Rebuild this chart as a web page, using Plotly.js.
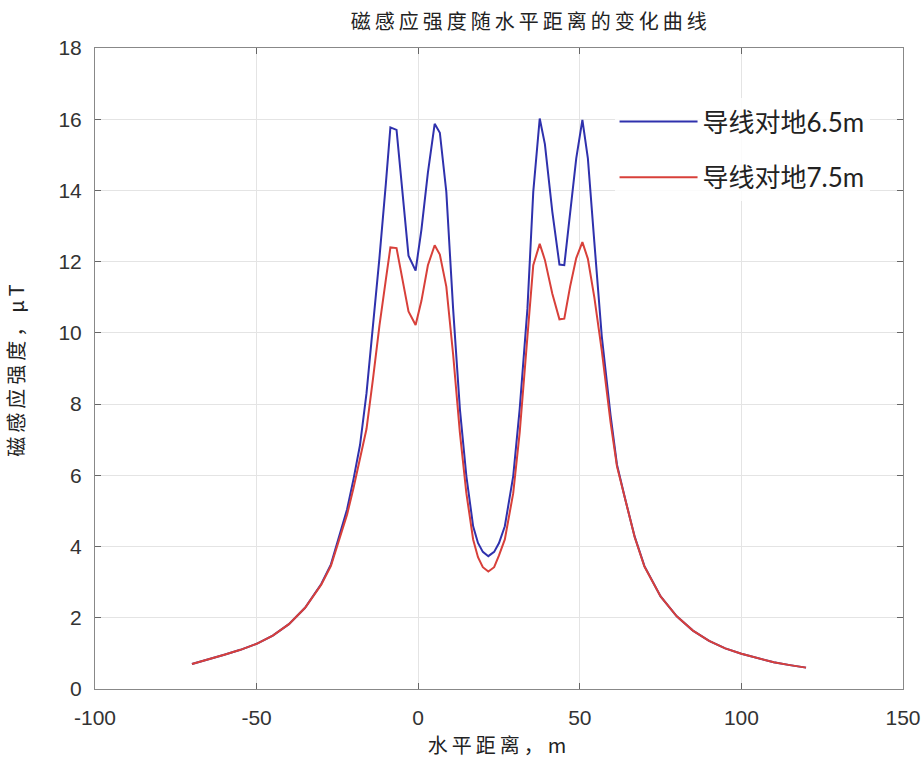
<!DOCTYPE html>
<html>
<head>
<meta charset="utf-8">
<script src="https://cdn.plot.ly/plotly-3.0.1.min.js"></script>
<style>
  html, body { margin: 0; padding: 0; background: #fff; }
  #chart { width: 923px; height: 760px; }
  .gtitle, .xtitle, .ytitle { letter-spacing: 4px; }
</style>
</head>
<body>
<div id="chart"></div>
<script>
// Horizontal distance (m)
const distance = [-70, -65, -60, -55, -50, -45, -40, -35, -30, -27, -24, -22, -20, -18, -16, -14, -12, -10,
  -8.6, -6.7, -5, -3, -0.8, 1, 3, 5.1, 6.7, 8.7, 10.8, 12.9, 14.9, 17, 18.5, 20, 21.7, 23.5, 25, 26.8, 29.4, 31.4,
  33.8, 35.6, 37.6, 39.2, 41.5, 43.7, 45.2, 47, 48.9, 50.8, 52.5, 54.5, 56.8, 59.5, 61.5, 64, 67, 70,
  75, 80, 85, 90, 95, 100, 105, 110, 115, 120];

// Conductor height 6.5 m (μT)
const field65 = [0.70, 0.82, 0.96, 1.10, 1.27, 1.50, 1.82, 2.28, 2.95, 3.50, 4.40, 5.05, 5.90, 6.85, 8.30, 10.1, 12.1, 14.2,
  15.77, 15.70, 14.1, 12.17, 11.75, 12.9, 14.5, 15.87, 15.62, 13.96, 10.68, 7.86, 5.98, 4.57, 4.10, 3.85, 3.73, 3.85, 4.10, 4.57, 5.98, 7.86,
  10.68, 13.96, 16.02, 15.3, 13.4, 11.92, 11.90, 13.3, 14.9, 15.98, 14.9, 12.55, 9.9, 7.7, 6.3, 5.35, 4.27, 3.45,
  2.60, 2.04, 1.64, 1.35, 1.14, 0.99, 0.86, 0.75, 0.67, 0.60];

// Conductor height 7.5 m (μT)
const field75 = [0.70, 0.82, 0.96, 1.10, 1.27, 1.50, 1.82, 2.28, 2.93, 3.46, 4.30, 4.90, 5.65, 6.45, 7.30, 8.70, 10.2, 11.5,
  12.40, 12.38, 11.6, 10.6, 10.22, 10.9, 11.9, 12.46, 12.2, 11.3, 9.4, 7.2, 5.5, 4.2, 3.70, 3.42, 3.30, 3.42, 3.75, 4.2, 5.5, 7.2,
  9.9, 11.9, 12.5, 12.05, 11.1, 10.38, 10.40, 11.3, 12.1, 12.55, 12.08, 11.0, 9.5, 7.5, 6.25, 5.33, 4.26, 3.44,
  2.60, 2.04, 1.64, 1.35, 1.14, 0.99, 0.86, 0.75, 0.67, 0.60];

const seriesNames = ['导线对地6.5m', '导线对地7.5m'];
const xTicks = [-100, -50, 0, 50, 100, 150];
const yTicks = [0, 2, 4, 6, 8, 10, 12, 14, 16, 18];

const traces = [
  { x: distance, y: field65, name: seriesNames[0], type: 'scatter', mode: 'lines',
    line: { color: '#2f31ad', width: 2 }, legendgroup: 'a' },
  { x: distance, y: field75, name: seriesNames[1], type: 'scatter', mode: 'lines',
    line: { color: '#d8403a', width: 2 }, legendgroup: 'b' }
];

const cjk = '"Noto Sans CJK SC", "Noto Sans", sans-serif';
const tickFont = { family: '"Liberation Sans", Arial, sans-serif', size: 21, color: '#333' };

const layout = {
  width: 923, height: 760,
  margin: { l: 95, r: 20, t: 48, b: 71 },
  paper_bgcolor: '#fff', plot_bgcolor: '#fff',
  title: { text: '磁感应强度随水平距离的变化曲线', font: { family: cjk, size: 20, color: '#222' },
    x: 0.575, xref: 'container', xanchor: 'center', y: 0.971, yref: 'container', yanchor: 'middle' },
  xaxis: {
    range: [-100, 150], tickvals: xTicks, ticktext: xTicks.map(String),
    showgrid: true, gridcolor: '#e4e4e4', gridwidth: 1, zeroline: false,
    showline: true, linecolor: '#888', linewidth: 1, mirror: 'ticks',
    ticks: 'inside', ticklen: 6, tickcolor: '#666', tickfont: tickFont, ticklabelstandoff: 10,
    title: { text: '水平距离，m', font: { family: cjk, size: 20, color: '#222' }, standoff: 10 }
  },
  yaxis: {
    range: [0, 18], tickvals: yTicks, ticktext: yTicks.map(String),
    showgrid: true, gridcolor: '#e4e4e4', gridwidth: 1, zeroline: false,
    showline: true, linecolor: '#888', linewidth: 1, mirror: 'ticks',
    ticks: 'inside', ticklen: 6, tickcolor: '#666', tickfont: tickFont, ticklabelstandoff: 8,
    title: { text: '磁感应强度，μT', font: { family: cjk, size: 20, color: '#222' }, standoff: 28 }
  },
  legend: {
    x: 0.643, y: 0.922, xanchor: 'left', yanchor: 'top',
    bgcolor: 'rgba(255,255,255,0.85)', borderwidth: 0,
    font: { family: 'Lato, "Noto Sans CJK SC", sans-serif', size: 26, color: '#222' },
    itemwidth: 78, traceorder: 'grouped', tracegroupgap: 19
  },
  showlegend: true
};

Plotly.newPlot('chart', traces, layout, { displayModeBar: false, staticPlot: true });
</script>
</body>
</html>
